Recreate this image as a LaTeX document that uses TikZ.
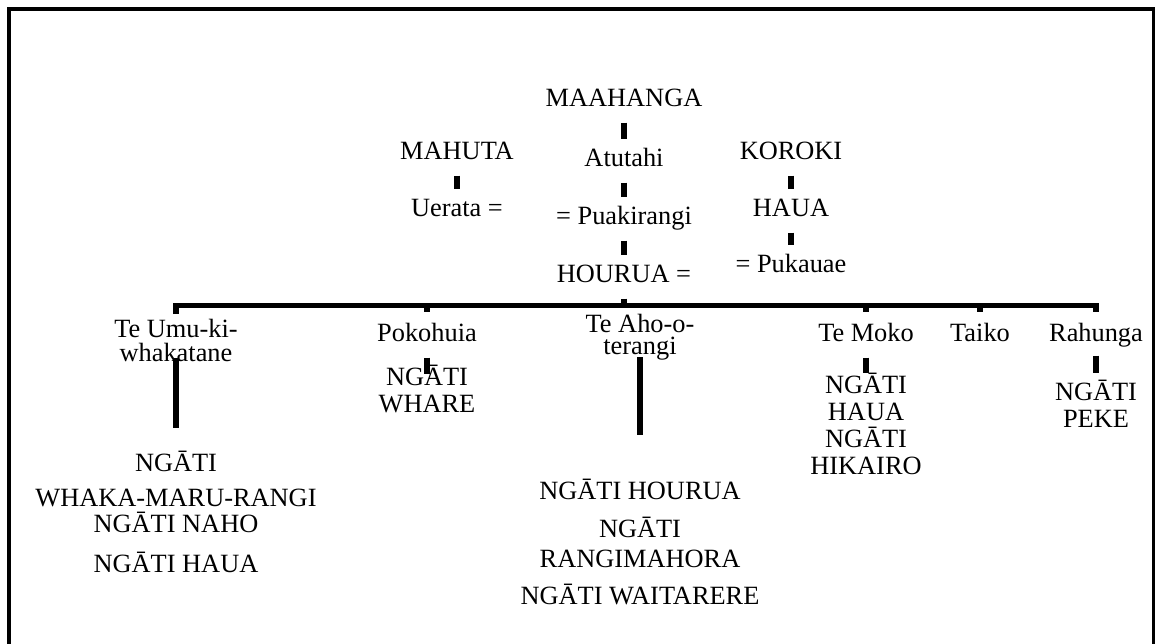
\documentclass[tikz,border=0pt]{standalone}
\usepackage{fontspec}
\setmainfont{Liberation Serif}

\begin{document}
\begin{tikzpicture}[
  font=\fontsize{7.5}{7.7}\selectfont,
  nome/.style={anchor=base, inner sep=0pt, text height=0.18cm, text depth=0.06cm},
  grupo/.style={anchor=base, inner sep=0pt, align=center},
  traco/.style={line width=1.5pt},
  tie/.style={traco, shorten <=0.09cm, shorten >=0.09cm},
  barra/.style={line width=1.5pt, line join=miter}
]
\useasboundingbox (0,0) rectangle (11.55,6.44);
\begin{scope}
  % moldura (aberta embaixo)
  \draw[line width=1.15pt] (0.09,-0.3) |- (11.55,6.35);
  \draw[line width=0.6pt] (11.535,6.35) -- (11.535,-0.3);

  % tronco central
  \node[nome] (maahanga)   at (6.24,5.37) {MAAHANGA};
  \node[nome] (atutahi)    at (6.24,4.77) {Atutahi};
  \node[nome] (puakirangi) at (6.24,4.19) {= Puakirangi};
  \node[nome] (hourua)     at (6.24,3.61) {HOURUA =};

  % ramos laterais
  \node[nome] (mahuta)  at (4.57,4.84) {MAHUTA};
  \node[nome] (uerata)  at (4.57,4.27) {Uerata =};
  \node[nome] (koroki)  at (7.91,4.84) {KOROKI};
  \node[nome] (haua)    at (7.91,4.27) {HAUA};
  \node[nome] (pukauae) at (7.91,3.71) {= Pukauae};

  \draw[tie] (maahanga.south) -- (atutahi.north);
  \draw[tie] (atutahi.south) -- (puakirangi.north);
  \draw[tie] (puakirangi.south) -- (hourua.north);
  \draw[tie] (mahuta.south) -- (uerata.north);
  \draw[tie] (koroki.south) -- (haua.north);
  \draw[tie] (haua.south) -- (pukauae.north);

  % filhos de HOURUA (base = ultima linha)
  \node[grupo] (teumu)    at (1.76,2.82) {Te Umu-ki-\\[-0.6pt]whakatane};
  \node[nome]  (pokohuia) at (4.27,3.02) {Pokohuia};
  \node[grupo] (teaho)    at (6.40,2.89) {Te Aho-o-\\[-1.4pt]terangi};
  \node[nome]  (temoko)   at (8.66,3.02) {Te Moko};
  \node[nome]  (taiko)    at (9.80,3.02) {Taiko};
  \node[nome]  (rahunga)  at (10.96,3.02) {Rahunga};

  % barra horizontal
  \coordinate (bar) at (6.24,3.385);
  \draw[traco, shorten >=0pt, shorten <=0.09cm] (hourua.south) -- (hourua.south |- bar);
  \draw[barra] ([yshift=0.04cm]teumu.north) |- (bar) -| ([yshift=0.11cm]rahunga.north);
  \foreach \n in {pokohuia,temoko,taiko}
    \draw[barra] (\n.north |- bar) -- ([yshift=0.11cm]\n.north);

  % iwi e hapū
  \node[grupo] (whakamaru) at (1.76,0.71)
    {NGĀTI\\[2.5pt]WHAKA-MARU-RANGI\\[-0.3pt]NGĀTI NAHO\\[3.7pt]NGĀTI HAUA};
  \node[grupo] (whare) at (4.27,2.31) {NGĀTI\\WHARE};
  \node[grupo] (waitarere) at (6.40,0.39)
    {NGĀTI HOURUA\\[3.1pt]NGĀTI\\[0.6pt]RANGIMAHORA\\[3.1pt]NGĀTI WAITARERE};
  \node[grupo] (hikairo) at (8.66,1.69) {NGĀTI\\HAUA\\NGĀTI\\HIKAIRO};
  \node[grupo] (peke) at (10.96,2.16) {NGĀTI\\PEKE};

  \draw[traco] ([yshift=0.05cm]teumu.south) -- ([yshift=0.22cm]whakamaru.north);
  \draw[traco] ([yshift=-0.09cm]pokohuia.south) -- ([yshift=-0.09cm]whare.north);
  \draw[traco] ([yshift=0.04cm]teaho.south) -- ([yshift=0.44cm]waitarere.north);
  \draw[traco] ([yshift=-0.09cm]temoko.south) -- (hikairo.north);
  \draw[traco] ([yshift=-0.07cm]rahunga.south) -- ([yshift=0.07cm]peke.north);
\end{scope}
\end{tikzpicture}
\end{document}
